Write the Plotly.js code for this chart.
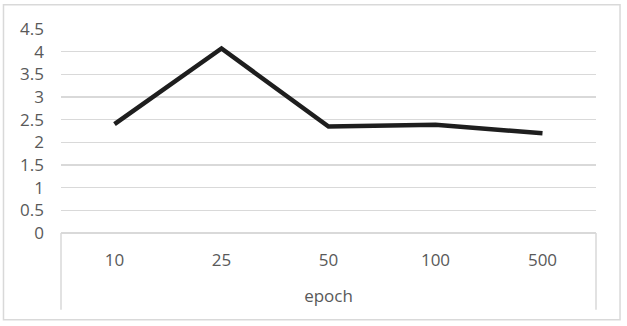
<!DOCTYPE html>
<html>
<head>
<meta charset="utf-8">
<script src="https://cdn.plot.ly/plotly-3.0.1.min.js"></script>
<style>
  html, body { margin: 0; padding: 0; background: #ffffff; }
  #chart { width: 627px; height: 326px; }
</style>
</head>
<body>
<div id="chart"></div>
<script>
// Data
const epochs = ['10', '25', '50', '100', '500'];
const values = [2.4, 4.07, 2.35, 2.39, 2.2];
const yTickValues = [0, 0.5, 1, 1.5, 2, 2.5, 3, 3.5, 4, 4.5];
const yTickLabels = ['0', '0.5', '1', '1.5', '2', '2.5', '3', '3.5', '4', '4.5'];
const xTitle = 'epoch';

const textColor = '#595959';
const gridColor = '#d9d9d9';
const fontFamily = '"Open Sans", "Noto Sans", sans-serif';
const fontSize = 17;

const trace = {
  type: 'scatter',
  mode: 'lines',
  x: epochs,
  y: values,
  line: { color: '#1e1e1e', width: 4.5 },
  hoverinfo: 'skip'
};

const layout = {
  width: 627,
  height: 326,
  margin: { l: 61, r: 31, t: 29, b: 93 },
  paper_bgcolor: '#ffffff',
  plot_bgcolor: '#ffffff',
  showlegend: false,
  font: { family: fontFamily, size: fontSize, color: textColor },
  xaxis: {
    type: 'category',
    categoryorder: 'array',
    categoryarray: epochs,
    range: [-0.5, epochs.length - 0.5],
    showgrid: false,
    zeroline: false,
    showline: false,
    ticks: '',
    ticklabelstandoff: 15,
    tickfont: { family: fontFamily, size: fontSize, color: textColor },
    title: { text: xTitle, standoff: 20, font: { family: fontFamily, size: fontSize, color: textColor } },
    automargin: false,
    fixedrange: true
  },
  yaxis: {
    range: [0, 4.5],
    tickmode: 'array',
    tickvals: yTickValues,
    ticktext: yTickLabels,
    showgrid: true,
    gridcolor: gridColor,
    gridwidth: 1.5,
    zeroline: true,
    zerolinecolor: gridColor,
    zerolinewidth: 1.5,
    showline: false,
    ticks: '',
    ticklabelstandoff: 16,
    tickfont: { family: fontFamily, size: fontSize, color: textColor },
    automargin: false,
    fixedrange: true
  },
  shapes: [
    // outer chart border
    { type: 'rect', xref: 'paper', yref: 'paper', x0: -0.1075, x1: 1.0449, y0: -0.425, y1: 1.119,
      line: { color: gridColor, width: 1.5 }, fillcolor: 'rgba(0,0,0,0)', layer: 'below' },
    // category box sides under the axis
    { type: 'line', xref: 'paper', yref: 'paper', x0: 0, x1: 0, y0: 0, y1: -0.376,
      line: { color: gridColor, width: 1.5 } },
    { type: 'line', xref: 'paper', yref: 'paper', x0: 1, x1: 1, y0: 0, y1: -0.376,
      line: { color: gridColor, width: 1.5 } }
  ]
};

Plotly.newPlot('chart', [trace], layout, { staticPlot: true, displayModeBar: false });
</script>
</body>
</html>
